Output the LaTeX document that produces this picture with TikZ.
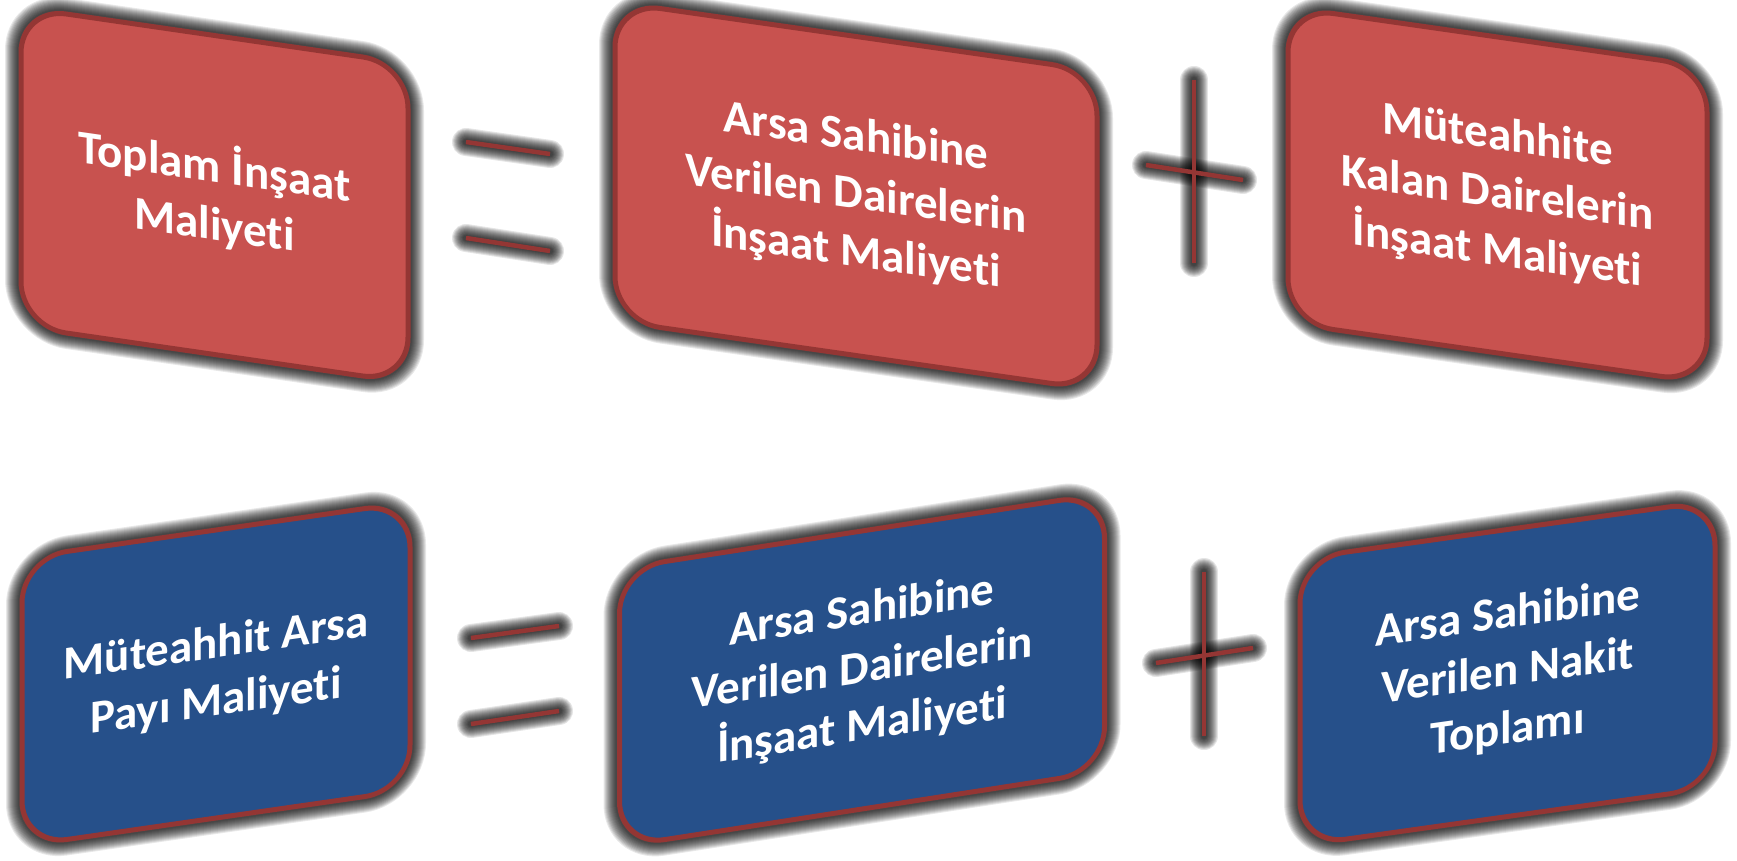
\documentclass[tikz,border=0pt]{standalone}
\usepackage{fontspec}
\setmainfont{Carlito}[Ligatures=CommonOff]
\definecolor{boxred}{HTML}{C8524F}
\definecolor{boxblue}{HTML}{26508A}
\definecolor{rim}{HTML}{943634}
\tikzset{
  card/.style={draw=rim, line width=5pt, rounded corners=45pt,
    text=white, align=center, inner sep=0pt,
    font=\fontsize{47}{58}\selectfont\bfseries},
  redcard/.style={card, fill=boxred},
  bluecard/.style={card, fill=boxblue},
  halo/.style={draw=black, draw opacity=0.09, rounded corners=45pt},
  barhalo/.style={draw=black, draw opacity=0.1, line cap=round},
  barline/.style={draw=rim, line width=4.5pt}
}
% glow + card: #1 centre x, #2 centre y, #3 slant, #4 half width, #5 half height
\newcommand{\glowframe}[5]{%
  \begin{scope}[transform canvas={shift={(#1,#2)}, yslant=#3}]
    \foreach \lw in {8,10,...,32}
      \draw[halo, line width=\lw pt] (-#4,-#5) rectangle (#4,#5);
  \end{scope}}
\begin{document}
\begin{tikzpicture}[x=1pt,y=-1pt]
\useasboundingbox (0,0) rectangle (1737,861);
\fill[white] (0,0) rectangle (1737,861);

% top row
\glowframe{214.5}{195}{-0.145}{193.5}{159.5}
\begin{scope}[transform canvas={shift={(214.5,195)}, yslant=-0.145}]
  \node[redcard, minimum width=387pt, minimum height=319pt] (b1) at (0,0) {Toplam İnşaat\\Maliyeti};
\end{scope}
\glowframe{856}{196}{-0.143}{241}{159.5}
\begin{scope}[transform canvas={shift={(856,196)}, yslant=-0.143}]
  \node[redcard, minimum width=482pt, minimum height=319pt] (b2) at (0,0) {Arsa Sahibine\\Verilen Dairelerin\\İnşaat Maliyeti};
\end{scope}
\glowframe{1497.5}{195}{-0.143}{209.5}{158}
\begin{scope}[transform canvas={shift={(1497.5,195)}, yslant=-0.143}]
  \node[redcard, minimum width=419pt, minimum height=316pt] (b3) at (0,0) {Müteahhite\\Kalan Dairelerin\\İnşaat Maliyeti};
\end{scope}

% bottom row
\glowframe{216}{674}{0.144}{194}{144}
\begin{scope}[transform canvas={shift={(216,674)}, yslant=0.144}]
  \node[bluecard, minimum width=388pt, minimum height=288pt] (b4) at (0,0) {Müteahhit Arsa\\Payı Maliyeti};
\end{scope}
\glowframe{862}{670}{0.155}{242.5}{139}
\begin{scope}[transform canvas={shift={(862,670)}, yslant=0.155}]
  \node[bluecard, minimum width=485pt, minimum height=278pt] (b5) at (0,0) {Arsa Sahibine\\Verilen Dairelerin\\İnşaat Maliyeti};
\end{scope}
\glowframe{1507.5}{673}{0.14}{207.5}{143.5}
\begin{scope}[transform canvas={shift={(1507.5,673)}, yslant=0.14}]
  \node[bluecard, minimum width=415pt, minimum height=287pt] (b6) at (0,0) {Arsa Sahibine\\Verilen Nakit\\Toplamı};
\end{scope}

% operator coordinates
\coordinate (e1a) at (466,142); \coordinate (e1b) at (550,154);
\coordinate (e2a) at (466,238); \coordinate (e2b) at (550,251);
\coordinate (e3a) at (471,638); \coordinate (e3b) at (559,626);
\coordinate (e4a) at (471,724); \coordinate (e4b) at (559,711);
\coordinate (p1a) at (1194,80);  \coordinate (p1b) at (1194,263);
\coordinate (p2a) at (1146,165); \coordinate (p2b) at (1243,180);
\coordinate (p3a) at (1204,572); \coordinate (p3b) at (1204,736);
\coordinate (p4a) at (1156,663); \coordinate (p4b) at (1253,648);

\foreach \a/\b in {e1a/e1b,e2a/e2b,e3a/e3b,e4a/e4b,p1a/p1b,p2a/p2b,p3a/p3b,p4a/p4b}
  \foreach \lw in {6,8,...,28}
    \draw[barhalo, line width=\lw pt] (\a) -- (\b);
\foreach \a/\b in {e1a/e1b,e2a/e2b,e3a/e3b,e4a/e4b,p1a/p1b,p2a/p2b,p3a/p3b,p4a/p4b}
  \draw[barline] (\a) -- (\b);
\end{tikzpicture}
\end{document}
